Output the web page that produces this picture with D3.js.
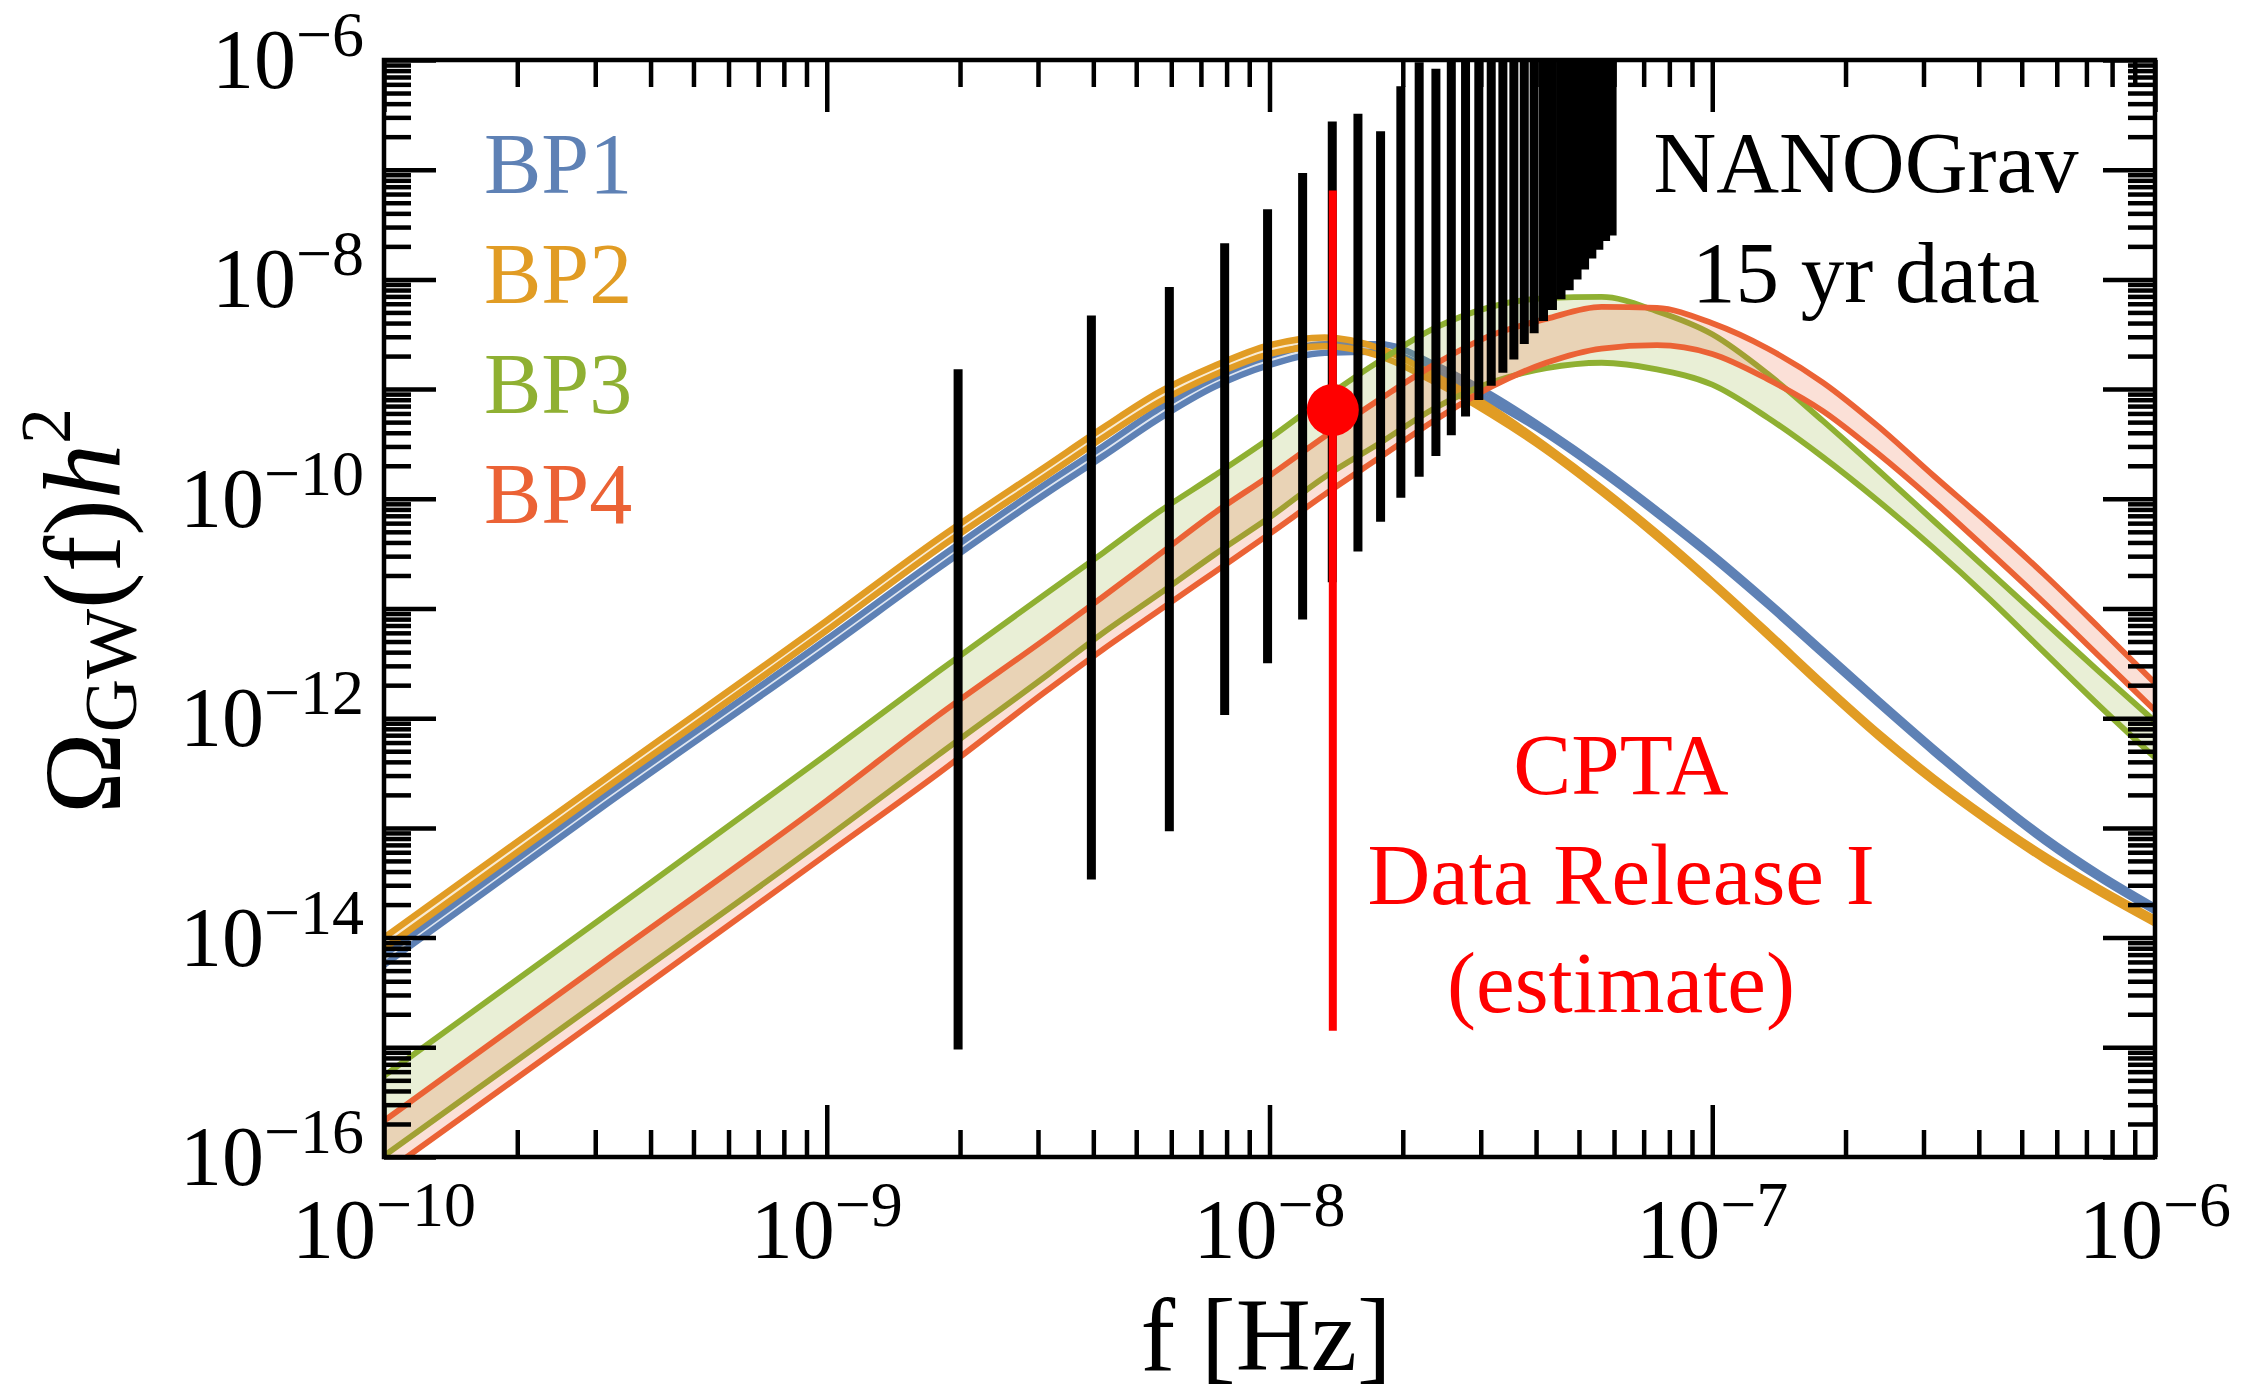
<!DOCTYPE html>
<html>
<head>
<meta charset="utf-8">
<script src="https://cdn.jsdelivr.net/npm/d3@7"></script>
<style>
  html, body { margin: 0; padding: 0; background: #ffffff; }
  svg { display: block; }
  text { font-family: "Liberation Serif", "Times New Roman", serif; }
</style>
</head>
<body>
<svg id="chart" width="2245" height="1399"></svg>
<script>
// ---------------- data (log10 values) ----------------
const freqLog = [-10, -9.5, -9, -8.75, -8.5, -8.375, -8.25, -8.125, -8, -7.875, -7.75, -7.625,
                 -7.5, -7.375, -7.25, -7.125, -7, -6.875, -6.75, -6.625, -6.5, -6.375, -6.25, -6.125, -6];

const bp1Upper = [-14.16, -12.70, -11.28, -10.55, -9.85, -9.52, -9.18, -8.90, -8.70, -8.59, -8.59, -8.78,
                  -9.05, -9.37, -9.72, -10.10, -10.50, -10.93, -11.38, -11.83, -12.27, -12.69, -13.08, -13.42, -13.72];
const bp1Lower = [-14.25, -12.79, -11.37, -10.64, -9.94, -9.61, -9.27, -8.98, -8.78, -8.67, -8.66, -8.84,
                  -9.11, -9.41, -9.76, -10.14, -10.54, -10.97, -11.42, -11.87, -12.31, -12.73, -13.12, -13.46, -13.76];
const bp2Upper = [-14.00, -12.55, -11.11, -10.37, -9.69, -9.35, -9.03, -8.79, -8.60, -8.53, -8.63, -8.88,
                  -9.17, -9.52, -9.90, -10.31, -10.75, -11.21, -11.68, -12.13, -12.54, -12.91, -13.25, -13.55, -13.83];
const bp2Lower = [-14.10, -12.64, -11.20, -10.46, -9.78, -9.44, -9.12, -8.87, -8.68, -8.61, -8.70, -8.94,
                  -9.23, -9.56, -9.94, -10.35, -10.79, -11.25, -11.72, -12.17, -12.58, -12.95, -13.29, -13.59, -13.87];
const bp3Upper = [-15.26, -13.80, -12.33, -11.58, -10.85, -10.49, -10.12, -9.79, -9.45, -9.08, -8.74, -8.44,
                  -8.25, -8.17, -8.16, -8.29, -8.50, -8.86, -9.29, -9.74, -10.20, -10.66, -11.12, -11.58, -12.03];
const bp3Lower = [-15.99, -14.54, -13.09, -12.34, -11.60, -11.22, -10.87, -10.51, -10.17, -9.80, -9.49, -9.17,
                  -8.94, -8.81, -8.76, -8.82, -8.96, -9.26, -9.62, -10.02, -10.45, -10.91, -11.40, -11.89, -12.36];
const bp4Upper = [-15.67, -14.21, -12.75, -11.98, -11.26, -10.89, -10.51, -10.13, -9.79, -9.43, -9.09, -8.77,
                  -8.51, -8.36, -8.25, -8.26, -8.40, -8.63, -8.94, -9.34, -9.79, -10.23, -10.69, -11.18, -11.68];
const bp4Lower = [-16.15, -14.70, -13.24, -12.51, -11.74, -11.37, -11.02, -10.67, -10.32, -9.96, -9.62, -9.28,
                  -8.98, -8.76, -8.63, -8.60, -8.68, -8.91, -9.20, -9.59, -10.02, -10.48, -10.95, -11.44, -11.93];

const seriesNames = ["BP1", "BP2", "BP3", "BP4"];
const seriesColors = ["#5e81b5", "#e19c24", "#8fb032", "#eb6235"];

// NANOGrav 15 yr free-spectrum bars (frequency in Hz, log10 of top / bottom)
const nanoFreq = [1.98e-9, 3.96e-9, 5.94e-9, 7.92e-9, 9.90e-9, 1.188e-8, 1.386e-8, 1.584e-8, 1.782e-8, 1.980e-8,
                  2.178e-8, 2.376e-8, 2.574e-8, 2.772e-8, 2.970e-8, 3.168e-8, 3.366e-8, 3.564e-8, 3.762e-8, 3.960e-8,
                  4.158e-8, 4.356e-8, 4.554e-8, 4.752e-8, 4.950e-8, 5.148e-8, 5.346e-8, 5.544e-8, 5.742e-8, 5.940e-8];
const nanoTop = [-8.82, -8.33, -8.07, -7.67, -7.36, -7.03, -6.56, -6.49, -6.65, -6.24,
                 -6.02, -6.08, -6.0, -6.0, -6.0, -6.0, -6.0, -6.0, -6.0, -6.0,
                 -6.0, -6.0, -6.0, -6.0, -6.0, -6.0, -6.0, -6.0, -6.0, -6.0];
const nanoBottom = [-15.02, -13.47, -13.03, -11.97, -11.50, -11.10, -10.76, -10.48, -10.21, -9.99,
                    -9.80, -9.61, -9.42, -9.25, -9.10, -8.97, -8.85, -8.73, -8.59, -8.49,
                    -8.38, -8.28, -8.18, -8.10, -8.00, -7.91, -7.81, -7.73, -7.65, -7.60];

// CPTA DR1 estimate
const cptaFreq = 1.39e-8;
const cptaCenterLog = -9.19;
const cptaTopLog = -7.19;
const cptaBottomLog = -14.85;

// axes
const xTickExps = [-10, -9, -8, -7, -6];
const yLabelExps = [-16, -14, -12, -10, -8, -6];
const yDecadeExps = [-16, -15, -14, -13, -12, -11, -10, -9, -8, -7, -6];

// ---------------- layout ----------------
const L = 384, R = 2155, T = 60, B = 1157;
const svg = d3.select("#chart");
const x = d3.scaleLog().domain([1e-10, 1e-6]).range([L, R]);
const y = d3.scaleLog().domain([1e-16, 1e-6]).range([B, T]);
const p10 = v => Math.pow(10, v);

svg.append("defs").append("clipPath").attr("id", "plotclip")
  .append("rect").attr("x", L).attr("y", T).attr("width", R - L).attr("height", B - T);

const plot = svg.append("g").attr("clip-path", "url(#plotclip)");

const bands = [
  { upper: bp1Upper, lower: bp1Lower },
  { upper: bp2Upper, lower: bp2Lower },
  { upper: bp3Upper, lower: bp3Lower },
  { upper: bp4Upper, lower: bp4Lower }
];
const lineWidths = [6.4, 6.4, 5.8, 5.8];

const curveType = d3.curveMonotoneX;
bands.forEach((b, i) => {
  const rows = freqLog.map((f, j) => ({ f: p10(f), up: p10(b.upper[j]), lo: p10(b.lower[j]) }));
  const area = d3.area().x(d => x(d.f)).y0(d => y(d.lo)).y1(d => y(d.up)).curve(curveType);
  const lineU = d3.line().x(d => x(d.f)).y(d => y(d.up)).curve(curveType);
  const lineL = d3.line().x(d => x(d.f)).y(d => y(d.lo)).curve(curveType);
  plot.append("path").datum(rows).attr("d", area)
    .attr("fill", seriesColors[i]).attr("fill-opacity", 0.2).attr("stroke", "none");
  plot.append("path").datum(rows).attr("d", lineU)
    .attr("fill", "none").attr("stroke", seriesColors[i]).attr("stroke-width", lineWidths[i]);
  plot.append("path").datum(rows).attr("d", lineL)
    .attr("fill", "none").attr("stroke", seriesColors[i]).attr("stroke-width", lineWidths[i]);
});

// NANOGrav bars
plot.selectAll("line.nano").data(nanoFreq).enter().append("line")
  .attr("class", "nano")
  .attr("x1", d => x(d)).attr("x2", d => x(d))
  .attr("y1", (d, i) => y(p10(nanoTop[i])) - (nanoTop[i] >= -6 ? 6 : 0))
  .attr("y2", (d, i) => y(p10(nanoBottom[i])))
  .attr("stroke", "#000").attr("stroke-width", 9);

// CPTA
plot.append("line")
  .attr("x1", x(cptaFreq)).attr("x2", x(cptaFreq))
  .attr("y1", y(p10(cptaTopLog))).attr("y2", y(p10(cptaBottomLog)))
  .attr("stroke", "#ff0000").attr("stroke-width", 8);
plot.append("circle")
  .attr("cx", x(cptaFreq)).attr("cy", y(p10(cptaCenterLog))).attr("r", 26)
  .attr("fill", "#ff0000");

// ---------------- frame & ticks ----------------
const xMajor = xTickExps.map(p10);
const xMinor = [];
for (let e = -10; e < -6; e++) for (let m = 2; m <= 9; m++) xMinor.push(m * p10(e));
const yMajor = yDecadeExps.map(p10);
const yMinor = [];
for (let e = -16; e < -6; e++) for (let m = 2; m <= 9; m++) yMinor.push(m * p10(e));

function ticks(axisFn, scale, values, size, tx, ty) {
  svg.append("g").attr("transform", `translate(${tx},${ty})`)
    .call(axisFn(scale).tickValues(values).tickSizeInner(-size).tickSizeOuter(0).tickFormat(""))
    .call(g => g.select(".domain").remove())
    .call(g => g.selectAll("line").attr("stroke", "#000").attr("stroke-width", 4.5));
}
ticks(d3.axisBottom, x, xMajor, 52, 0, B);
ticks(d3.axisBottom, x, xMinor, 27, 0, B);
ticks(d3.axisTop, x, xMajor, 52, 0, T);
ticks(d3.axisTop, x, xMinor, 27, 0, T);
ticks(d3.axisLeft, y, yMajor, 52, L, 0);
ticks(d3.axisLeft, y, yMinor, 27, L, 0);
ticks(d3.axisRight, y, yMajor, 52, R, 0);
ticks(d3.axisRight, y, yMinor, 27, R, 0);

svg.append("rect").attr("x", L).attr("y", T).attr("width", R - L).attr("height", B - T)
  .attr("fill", "none").attr("stroke", "#000").attr("stroke-width", 4.5);

// ---------------- tick labels ----------------
function powLabel(sel, e) {
  sel.append("tspan").text("10");
  sel.append("tspan").attr("dy", -32).attr("font-size", 64).text("\u2212" + Math.abs(e));
}
xTickExps.forEach(e => {
  const t = svg.append("text").attr("x", x(p10(e))).attr("y", 1258)
    .attr("text-anchor", "middle").attr("font-size", 84).attr("fill", "#000");
  powLabel(t, e);
});
yLabelExps.forEach(e => {
  const t = svg.append("text").attr("x", 364).attr("y", y(p10(e)) + 28)
    .attr("text-anchor", "end").attr("font-size", 84).attr("fill", "#000");
  powLabel(t, e);
});

// axis titles
svg.append("text").attr("x", 1266).attr("y", 1370).attr("text-anchor", "middle")
  .attr("font-size", 104).attr("fill", "#000").text("f [Hz]");

const yt = svg.append("text").attr("transform", "translate(120,611) rotate(-90)")
  .attr("text-anchor", "middle").attr("font-size", 110).attr("fill", "#000");
yt.append("tspan").text("\u03A9");
yt.append("tspan").attr("font-size", 74).attr("dy", 16).text("GW");
yt.append("tspan").attr("dy", -16).text("(f)");
yt.append("tspan").attr("font-style", "italic").text("h");
yt.append("tspan").attr("font-size", 72).attr("dy", -50).text("2");

// legend
seriesNames.forEach((n, i) => {
  svg.append("text").attr("x", 484).attr("y", 193 + i * 110)
    .attr("font-size", 86).attr("fill", seriesColors[i]).text(n);
});

// annotations
[["NANOGrav", 192], ["15 yr data", 302]].forEach(([s, yy]) => {
  svg.append("text").attr("x", 1866).attr("y", yy).attr("text-anchor", "middle")
    .attr("font-size", 87).attr("fill", "#000").text(s);
});
[["CPTA", 794], ["Data Release I", 904], ["(estimate)", 1012]].forEach(([s, yy]) => {
  svg.append("text").attr("x", 1621).attr("y", yy).attr("text-anchor", "middle")
    .attr("font-size", 87).attr("fill", "#ff0000").text(s);
});
</script>
</body>
</html>
